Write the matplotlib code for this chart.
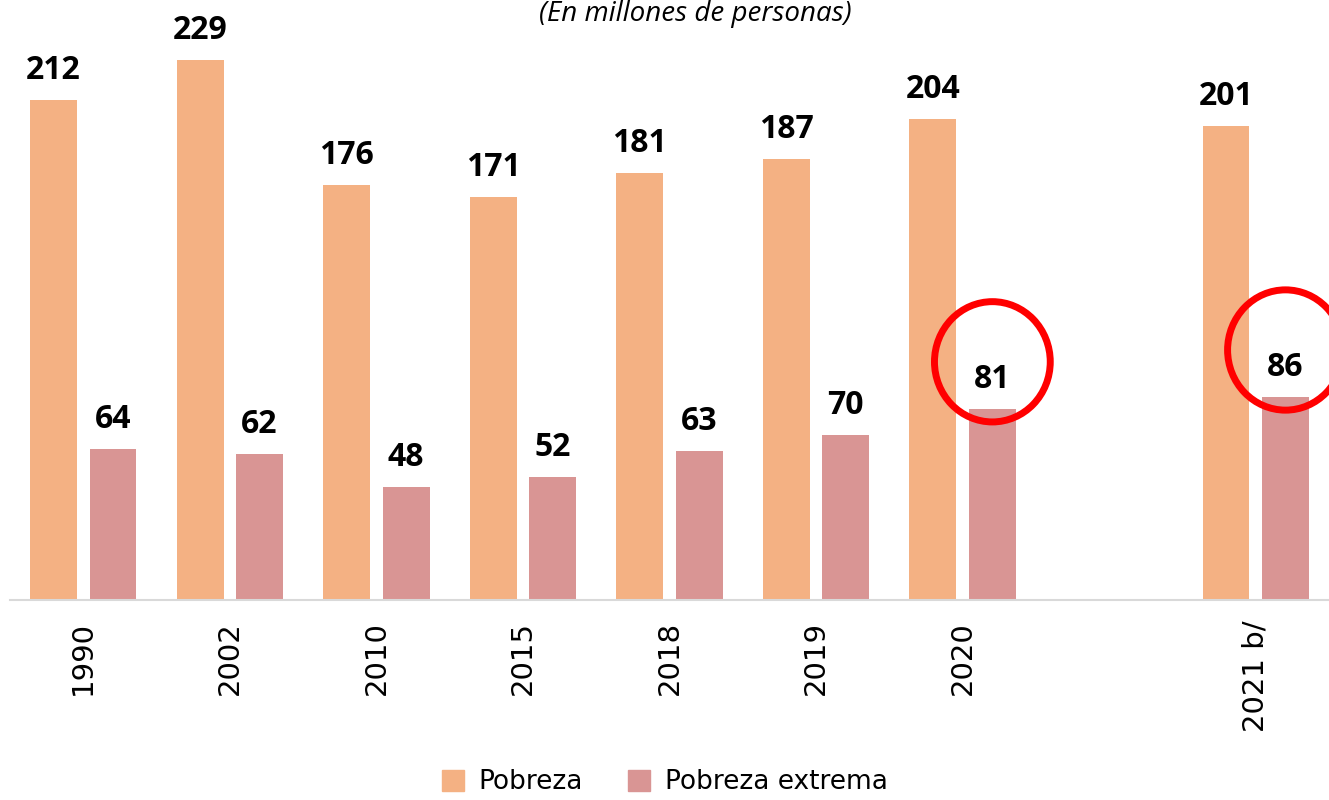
import numpy as np
import matplotlib.pyplot as plt
from matplotlib.patches import Ellipse, Patch

# datos (millones de personas)
years = ["1990", "2002", "2010", "2015", "2018", "2019", "2020", "", "2021 b/"]
pobreza = [212, 229, 176, 171, 181, 187, 204, None, 201]
extrema = [64, 62, 48, 52, 63, 70, 81, None, 86]
circled = ["2020", "2021 b/"]

c_pob = "#F4B183"
c_ext = "#D99594"

fig = plt.figure(figsize=(13.29, 8), dpi=100)
ax = fig.add_axes([10 / 1329, 0.25, 1 - 10 / 1329, 0.75])

x = np.arange(len(years))
w = 0.32
off = 0.203
for i, (p, e) in enumerate(zip(pobreza, extrema)):
    if p is None:
        continue
    ax.bar(i - off, p, w, color=c_pob)
    ax.bar(i + off, e, w, color=c_ext)
    ax.text(i - off, p + 5.5, str(p), ha="center", va="bottom",
            fontsize=23, fontweight="bold", family="Open Sans")
    ax.text(i + off, e + 5.5, str(e), ha="center", va="bottom",
            fontsize=23, fontweight="bold", family="Open Sans")
    if years[i] in circled:
        ax.add_patch(Ellipse((i + off, e + 20), 0.79, 51, fill=False,
                             edgecolor="#FF0000", lw=5, clip_on=False,
                             zorder=5))

ax.set_xlim(-0.5, 8.5)
ax.set_ylim(0, 254.4)
ax.set_xticks(x)
ax.set_xticklabels(years, rotation=90, fontsize=21, family="DejaVu Sans")
ax.tick_params(axis="x", length=0, pad=15)
ax.set_yticks([])
for s in ["top", "right", "left"]:
    ax.spines[s].set_visible(False)
ax.spines["bottom"].set_color("#D9D9D9")
ax.spines["bottom"].set_linewidth(1.5)

fig.text(0.523, 0.9995, "(En millones de personas)", ha="center", va="top",
         fontsize=20, style="italic", family="Open Sans")

handles = [Patch(color=c_pob, label="Pobreza"),
           Patch(color=c_ext, label="Pobreza extrema")]
fig.legend(handles=handles, loc="center", bbox_to_anchor=(0.5, 0.022),
           ncol=2, frameon=False, fontsize=19, handlelength=0.85,
           handleheight=0.85, columnspacing=1.7, handletextpad=0.55)

fig.savefig("out.png", dpi=100)
